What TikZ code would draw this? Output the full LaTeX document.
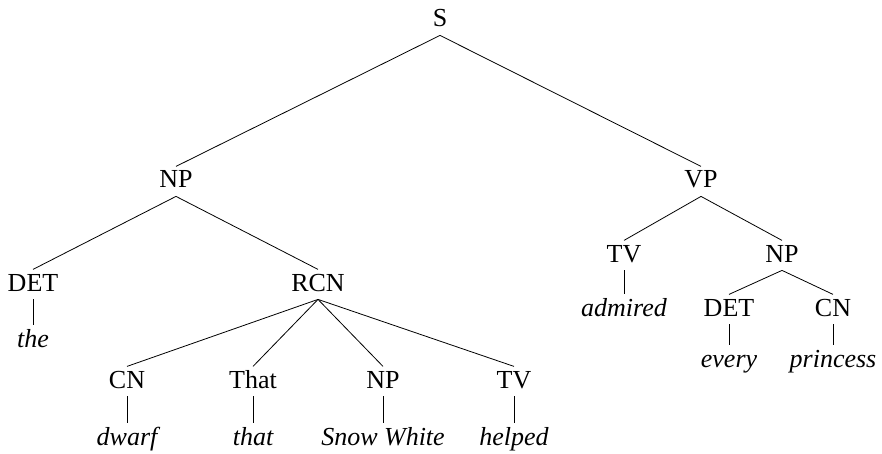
\documentclass[tikz,border=0pt]{standalone}
\usepackage{fontspec}
\setmainfont{Liberation Serif}
\usetikzlibrary{positioning}

\begin{document}
\begin{tikzpicture}[x=0.5pt,y=-0.5pt,
    cat/.style={anchor=base,inner sep=2pt,text height=8.6pt,text depth=2pt,
                font=\fontsize{13}{15}\selectfont},
    word/.style={anchor=base,inner sep=2pt,text height=8.9pt,text depth=2.9pt,
                 font=\fontsize{13}{15}\selectfont\itshape}]
  \useasboundingbox (0,0) rectangle (882,454);

  % sentence and the subject
  \node[cat] (s) at (440,27) {S};
  \node[cat] (np) at (176,188) {NP};
  \node[cat] (det) at (33,291) {DET};
  \node[cat] (rcn) at (318,291) {RCN};
  \node[word] (the) at (33,347) {the};
  \node[cat] (cn) at (127,388) {CN};
  \node[cat] (that) at (253,388) {That};
  \node[cat] (np2) at (383,388) {NP};
  \node[cat] (tv) at (514,388) {TV};
  \node[word] (dwarf) at (127,445) {dwarf};
  \node[word] (thatw) at (253,445) {that};
  \node[word] (snow) at (383,445) {Snow White};
  \node[word] (helped) at (514,445) {helped};

  % the verb phrase
  \node[cat] (vp) at (701,188) {VP};
  \node[cat] (tv2) at (624,262) {TV};
  \node[cat] (np3) at (782,262) {NP};
  \node[word] (admired) at (624,316) {admired};
  \node[cat] (det2) at (729,316) {DET};
  \node[cat] (cn2) at (833,316) {CN};
  \node[word] (every) at (729,367) {every};
  \node[word] (princess) at (833,367) {princess};

  \foreach \a/\b in {s/np,s/vp,np/det,np/rcn,det/the,rcn/cn,rcn/that,rcn/np2,rcn/tv,
                     cn/dwarf,that/thatw,np2/snow,tv/helped,vp/tv2,vp/np3,
                     tv2/admired,np3/det2,np3/cn2,det2/every,cn2/princess}
    \draw (\a.south) -- (\b.north);
\end{tikzpicture}
\end{document}
